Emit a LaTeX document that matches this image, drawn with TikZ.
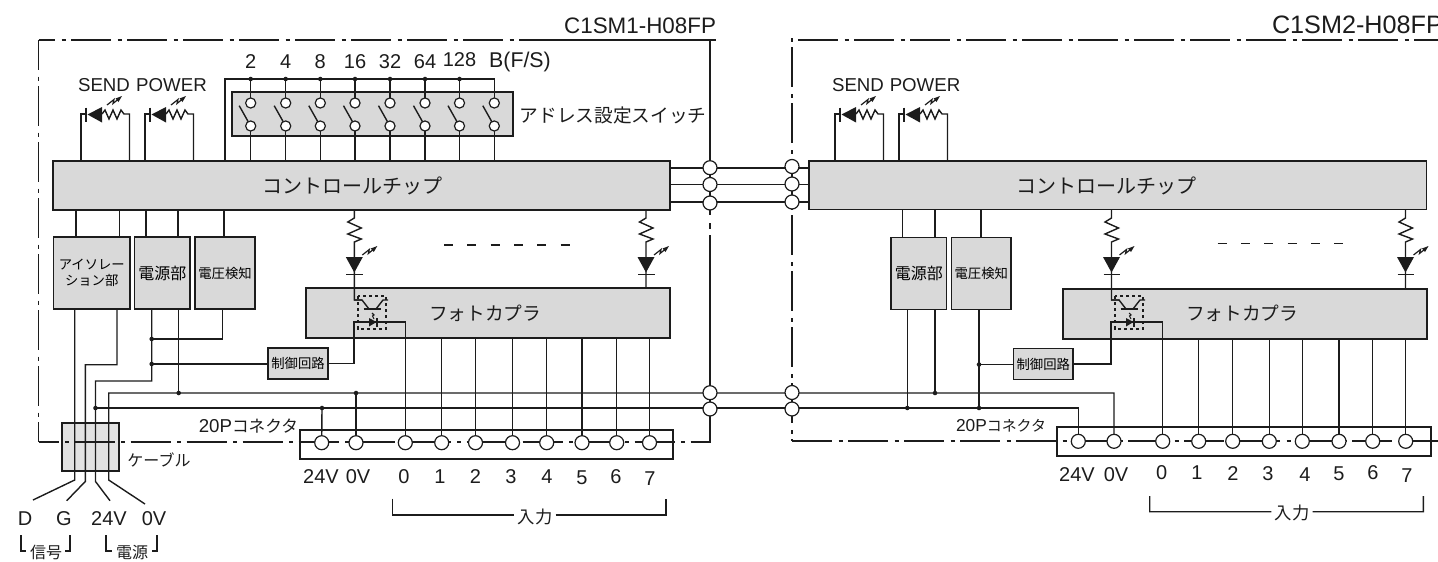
\documentclass[tikz,border=0pt]{standalone}
\usepackage{fontspec}
\setmainfont{Liberation Sans}
\newfontfamily\cjk{Noto Sans CJK JP}
\usetikzlibrary{calc}
\pgfdeclarelayer{boxes}\pgfdeclarelayer{wires}
\pgfsetlayers{boxes,wires,main}
\definecolor{ink}{HTML}{1C1C1C}
\definecolor{boxgrey}{HTML}{D9D9D9}
\definecolor{cablegrey}{HTML}{E2E2E2}
\newcommand{\fs}[1]{\fontsize{#1pt}{#1pt}\selectfont}
\tikzset{
  wire/.style={draw=ink,line width=1.05pt,line join=miter},
  thin wire/.style={draw=ink,line width=.8pt},
  frameline/.style={draw=ink,line width=1.3pt,dash pattern=on 30pt off 4.9pt on 3pt off 4.1pt},
  gbox/.style={draw=ink,line width=1.05pt,fill=boxgrey,inner sep=0pt,outer sep=0pt,align=center},
  conbox/.style={draw=ink,line width=1.5pt,inner sep=0pt,outer sep=0pt},
  term/.style={circle,draw=ink,line width=.9pt,fill=white,minimum size=10.5pt,inner sep=0pt,outer sep=0pt},
  swc/.style={circle,draw=ink,line width=.9pt,fill=white,minimum size=7.6pt,inner sep=0pt,outer sep=0pt},
  jdot/.style={circle,fill=ink,minimum size=3.4pt,inner sep=0pt,outer sep=0pt},
  lbl/.style={inner sep=0pt,outer sep=0pt,text=ink,align=center},
}
% #1 name, #2 x1, #3 y1, #4 x2, #5 y2, #6 style, #7 text
\newcommand{\pxbox}[7]{\node[#6,minimum width={(#4-(#2))*0.75pt},minimum height={(#5-(#3))*0.75pt}] (#1) at ({(#2+#4)/2},{(#3+#5)/2}) {#7};}
% lightning mark, origin at its lower left
\newcommand{\bolt}[2]{\begin{scope}[shift={(#1,#2)}]
  \draw[wire,line width=.9pt] (0,0) -- (7,-5.5) -- (6,-1.5) -- (11,-5.5);
  \fill[ink] (15,-9) -- (8.5,-6.5) -- (11.5,-3) -- cycle;
\end{scope}}
% send/power lamp: #1 chip node, #2 left leg x
\newcommand{\sendled}[2]{\begin{scope}[shift={(#2,0)}]
  \coordinate (ll) at (0,114);
  \coordinate (rl) at (48.5,114);
  \draw[wire] (ll |- #1.north) -- (ll) -- (5,114);
  \draw[wire] (5,107.5) -- (5,122);
  \fill[ink] (6.5,114.5) -- (21,107) -- (21,122.5) -- cycle;
  \draw[wire] (21,114) -- (24,110) -- (28,119) -- (32,110) -- (36,119) -- (40,110) -- (43,114) -- (rl) -- (rl |- #1.north);
  \bolt{26}{105}
\end{scope}}
% lamp column: #1 chip node, #2 coupler node, #3 x, #4 extra path
\newcommand{\ledcol}[4]{\begin{scope}[shift={(#3,0)}]
  \coordinate (cc) at (0,0);
  \draw[wire] (cc |- #1.south) -- (0,218) -- (-6.5,222) -- (7,228) -- (-6.5,234) -- (7,239) -- (0,242) -- (0,275) -- #4;
  \fill[ink] (-8.5,257) -- (8.5,257) -- (0,272.5) -- cycle;
  \draw[wire] (-8,274.7) -- (8.5,274.7);
  \bolt{8}{255}
\end{scope}}
% coupler element: #1 x shift
\newcommand{\optoc}[1]{\begin{scope}[shift={(#1,0)}]
  \draw[draw=ink,line width=.8pt,dash pattern=on 2.6pt off 1.9pt] (358,296) rectangle (386,329);
  \draw[wire] (354,300) -- (362,300) -- (369,309);
  \draw[wire] (363.5,309) -- (380.5,309);
  \draw[wire] (376,309) -- (383,300) -- (388,300);
  \draw[thin wire] (372,313) -- (374,315) -- (372.5,316) -- (374,319);
  \fill[ink] (369,318) -- (369,326.5) -- (376.5,322) -- cycle;
  \draw[wire] (377,318) -- (377,326.5);
\end{scope}}
\begin{document}
\begin{tikzpicture}[x=.75pt,y=-.75pt]
\useasboundingbox (0,0) rectangle (1438,561);
\clip (0,0) rectangle (1438,561);

%------------ boxes
\begin{pgfonlayer}{boxes}
\pxbox{cableb}{62}{423}{119}{471}{draw=ink,line width=1.05pt,fill=cablegrey,inner sep=0pt,outer sep=0pt}{}
\pxbox{chipL}{53}{161}{670}{210}{gbox}{\hspace*{0pt}}
\pxbox{chipR}{809}{161}{1426.5}{209.5}{gbox}{\hspace*{0pt}}
\pxbox{isoL}{53.5}{237}{130}{309}{gbox}{\cjk\fs{10}\baselineskip=12.5pt アイソレー\\\cjk\fs{10}ション部}
\pxbox{pwrL}{134.5}{237}{190}{309}{gbox}{\cjk\fs{12}電源部}
\pxbox{volL}{195}{237}{255}{309}{gbox}{\cjk\fs{10}電圧検知}
\pxbox{pwrR}{891}{237.5}{946.5}{309.5}{gbox}{\cjk\fs{12}電源部}
\pxbox{volR}{951.5}{237.5}{1011}{309.5}{gbox}{\cjk\fs{10}電圧検知}
\pxbox{optL}{306}{288}{670}{338}{gbox}{\hspace*{0pt}}
\pxbox{optR}{1063}{289}{1427}{339}{gbox}{\hspace*{0pt}}
\pxbox{ctlL}{268}{348}{328}{379}{gbox}{\cjk\fs{10}制御回路}
\pxbox{ctlR}{1013.5}{348.5}{1073}{379.5}{gbox}{\cjk\fs{10}制御回路}
\pxbox{swb}{232}{92}{513}{136}{gbox}{\hspace*{0pt}}
\pxbox{conL}{299.5}{430}{673}{458.5}{conbox}{}
\pxbox{conR}{1057}{427}{1431}{456}{conbox}{}
\end{pgfonlayer}

%------------ labels
\node[lbl,anchor=base east] (titleL) at (716,33) {\fs{16.8}C1SM1-H08FP};
\node[lbl,anchor=base west] (titleR) at (1272,33) {\fs{18.9}C1SM2-H08FP};
\node[lbl] (chiptL) at (352.5,186) {\cjk\fs{15}コントロールチップ};
\node[lbl] (chiptR) at (1106,186) {\cjk\fs{15}コントロールチップ};
\node[lbl] (sendL) at (104,85) {\fs{14}SEND};
\node[lbl] (powerL) at (171.5,85) {\fs{14}POWER};
\node[lbl] (sendR) at (858,85) {\fs{14}SEND};
\node[lbl] (powerR) at (925,85) {\fs{14}POWER};
\node[lbl] (addr) at (613,115) {\cjk\fs{14}アドレス設定スイッチ};
\node[lbl] (photoL) at (485,313) {\cjk\fs{14}フォトカプラ};
\node[lbl] (photoR) at (1242,313) {\cjk\fs{14}フォトカプラ};
\node[lbl,anchor=east] (p20L) at (298,426) {\fs{14}20P\cjk\fs{12.5}コネクタ};
\node[lbl,anchor=east] (p20R) at (1046,426) {\fs{13}20P\cjk\fs{11.2}コネクタ};
\node[lbl] (cablet) at (159,460) {\cjk\fs{12}ケーブル};
\node[lbl] (lD) at (25,519) {\fs{15}D};
\node[lbl] (lG) at (64,519) {\fs{15}G};
\node[lbl] (l24) at (109,519) {\fs{15}24V};
\node[lbl] (l0) at (154,519) {\fs{15}0V};
\node[lbl] (sig) at (46,552) {\cjk\fs{12}信号};
\node[lbl] (pow) at (132,552) {\cjk\fs{12}電源};
\node[lbl] (L24) at (321,477) {\fs{15}24V};
\node[lbl] (L0) at (358,477) {\fs{15}0V};
\node[lbl] (R24) at (1077,475) {\fs{15}24V};
\node[lbl] (R0) at (1116,475) {\fs{15}0V};
\foreach \n/\x/\y in {0/404/477,1/440/477,2/475.5/477,3/511/477,4/547/477,5/582/478,6/616/477,7/650/479}
  \node[lbl] (Ln\n) at (\x,\y) {\fs{15}\n};
\foreach \n/\x/\y in {0/1161.7/473,1/1197/473,2/1233/474,3/1268/474,4/1305/475,5/1339/474,6/1373/473,7/1407/476}
  \node[lbl] (Rn\n) at (\x,\y) {\fs{15}\n};
\node[lbl,inner xsep=2.5pt] (inL) at (535,517) {\cjk\fs{13}入力};
\node[lbl,inner xsep=2.5pt] (inR) at (1292,513) {\cjk\fs{13}入力};

%------------ terminals
\foreach \n/\x in {p/321.7,m/356,0/405.3,1/441.7,2/475.5,3/512.5,4/546.7,5/582,6/616.7,7/649.5}
  \node[term] (LT\n) at (\x,442.7) {};
\foreach \n/\x in {p/1078.3,m/1114,0/1162.7,1/1198.7,2/1232.7,3/1269.3,4/1302.3,5/1339,6/1372.7,7/1405.7}
  \node[term] (RT\n) at (\x,441.3) {};
\foreach \n/\x/\y in {a/710/167.7,b/710/184.5,c/710/203,d/710/392.7,e/710/409,f/792/166.5,g/792/184,h/792/202,i/792/392.5,j/792/409}
  \node[term] (X\n) at (\x,\y) {};

%------------ switches
\foreach \i/\x/\t/\ty in {1/250.7/2/62,2/285.7/4/62,3/320.3/8/62,4/355/16/62,5/390/32/62,6/425/64/62,7/459.5/128/60,8/494.3/{}/62}{
  \node[swc] (st\i) at (\x,103) {};
  \node[swc] (sb\i) at (\x,126) {};
  \coordinate (bus\i) at (\x,79);
  \node[lbl] (swl\i) at (\x,\ty) {\fs{15}\t};
  \begin{pgfonlayer}{wires}
    \draw[wire] (bus\i) -- (st\i);
    \draw[wire] (sb\i) -- (sb\i |- chipL.north);
    \draw[wire] (\x-11.5,105.7) -- (\x-2.5,121.7);
  \end{pgfonlayer}
}
\node[lbl] (swlB) at (520,62) {\fs{16}B(F/S)};
\foreach \i in {1,...,7} \node[jdot] at (bus\i) {};

%------------ junctions and free ends
\coordinate (j1) at (151.7,339);
\coordinate (j2) at (151.7,364);
\coordinate (j3) at (178.7,393);
\coordinate (j4) at (95.5,408);
\coordinate (j5) at (322,408);
\coordinate (j6) at (356,393);
\coordinate (j7) at (935,393);
\coordinate (j8) at (907.3,408);
\coordinate (j9) at (979,408);
\coordinate (j10) at (979,364.5);
\foreach \j in {1,...,10} \node[jdot] at (j\j) {};
\coordinate (eD) at (33,500);
\coordinate (eG) at (66.7,500.7);
\coordinate (e24) at (110,500.7);
\coordinate (e0) at (145,504);
\coordinate (bL) at (225,79);
\coordinate (nA) at (76,0);\coordinate (nB) at (119.3,0);
\coordinate (nC) at (146,0);\coordinate (nD) at (178,0);
\coordinate (nE) at (224,0);
\coordinate (nF) at (902.7,0);\coordinate (nG) at (935,0);\coordinate (nH) at (981,0);
\coordinate (w1) at (0,168);\coordinate (w2) at (0,184.5);\coordinate (w3) at (0,202);

\begin{pgfonlayer}{wires}
% frames
\draw[frameline,dash phase=17.6pt] (38.5,40) -- (716,40);
\draw[draw=ink,line width=1.3pt] (553,40) -- (716,40);
\draw[frameline,dash phase=7.5pt] (38.5,40) -- (38.5,442);
\draw[frameline,dash phase=15pt] (38.5,442) -- (710,442);
\draw[draw=ink,line width=1.5pt] (710,40) -- (710,215);
\draw[draw=ink,line width=1.5pt] (710,223) -- (710,229);
\draw[draw=ink,line width=1.5pt] (710,235) -- (710,442.7);
\draw[frameline,dash phase=37.5pt] (792,40) -- (1438,40);
\draw[frameline,dash phase=34.9pt] (792,38) -- (792,441);
\draw[frameline] (792,441) -- (1438,441);

% chip to chip
\foreach \w in {w1,w2,w3} \draw[wire] (chipL.east |- \w) -- (chipR.west |- \w);

% send lamps
\sendled{chipL}{81}
\sendled{chipL}{145}
\sendled{chipR}{835}
\sendled{chipR}{899}

% address bus
\draw[wire] (bL |- chipL.north) -- (bL) -- (bus8) -- (st8);

% chip to blocks, left
\draw[wire] (nA |- chipL.south) -- (nA |- isoL.north);
\draw[wire] (nB |- chipL.south) -- (nB |- isoL.north);
\draw[wire] (nC |- chipL.south) -- (nC |- pwrL.north);
\draw[wire] (nD |- chipL.south) -- (nD |- pwrL.north);
\draw[wire] (nE |- chipL.south) -- (nE |- volL.north);
% chip to blocks, right
\draw[wire] (nF |- chipR.south) -- (nF |- pwrR.north);
\draw[wire] (nG |- chipR.south) -- (nG |- pwrR.north);
\draw[wire] (nH |- chipR.south) -- (nH |- volR.north);

% cable wires
\draw[wire] (74.7,309) -- (74.7,480) -- (eD);
\draw[wire] (117,309) -- (117,364.7) -- (85.3,364.7) -- (85.3,481.5) -- (eG);
\draw[wire] (j1 |- pwrL.south) -- (151.7,381) -- (95.5,381) -- (95.5,481.5) -- (e24);
\draw[wire] (e0) -- (108.7,480) -- (108.7,393) -- (1114,393) -- (RTm);
\draw[wire] (j4) -- (1078.3,408) -- (RTp);
\draw[wire] (j3 |- pwrL.south) -- (j3);
\draw[wire] (j1) -- (222.3,339) -- (222.3,309);
\draw[wire] (j2) -- (j2 -| ctlL.west);
\draw[wire] (j5) -- (LTp);
\draw[wire] (j6) -- (LTm);

% right unit supply wires
\draw[wire] (j8 |- pwrR.south) -- (j8);
\draw[wire] (j7 |- pwrR.south) -- (j7);
\draw[wire] (j9 |- volR.south) -- (j9);
\draw[wire] (j10) -- (j10 -| ctlR.west);

% lamp columns
\ledcol{chipL}{optL}{354.3}{(0,300) -- (8,300)}
\ledcol{chipL}{optL}{646}{(0,288)}
\ledcol{chipR}{optR}{1111.5}{(0,300) -- (8,300)}
\ledcol{chipR}{optR}{1405.5}{(0,289)}
\optoc{0}
\optoc{757}

% control to coupler to terminal 0
\draw[wire] (ctlL.east) -- (354,363.5) -- (354,322) -- (405.3,322) -- (LT0);
\draw[wire] (ctlR.east) -- (1111,364) -- (1111,322) -- (1162.7,322) -- (RT0);

% inputs
\foreach \n in {1,...,7} {
  \draw[wire] (LT\n |- optL.south) -- (LT\n);
  \draw[wire] (RT\n |- optR.south) -- (RT\n);
}

% annotation brackets
\draw[wire] (392.7,498.7) -- (392.7,515) -- ($(inL.west)+(0,-2)$);
\draw[wire] ($(inL.east)+(0,-2)$) -- (666,515) -- (666,498.7);
\draw[wire] (1149.7,496) -- (1149.7,511.7) -- ($(inR.west)+(0,-1.3)$);
\draw[wire] ($(inR.east)+(0,-1.3)$) -- (1423.3,511.7) -- (1423.3,496);
\draw[thin wire] (21,535) -- (21,551) -- (26,551);
\draw[thin wire] (65,551) -- (70,551) -- (70,535);
\draw[thin wire] (106,535) -- (106,551) -- (112,551);
\draw[thin wire] (152,551) -- (157,551) -- (157,535);

% dashes between lamps
\draw[draw=ink,line width=1pt,dash pattern=on 6.75pt off 10.75pt] (444,245) -- (570,245);
\draw[draw=ink,line width=1pt,dash pattern=on 6.75pt off 10.75pt] (1217.7,243.3) -- (1343.4,243.3);
\end{pgfonlayer}
\end{tikzpicture}
\end{document}
